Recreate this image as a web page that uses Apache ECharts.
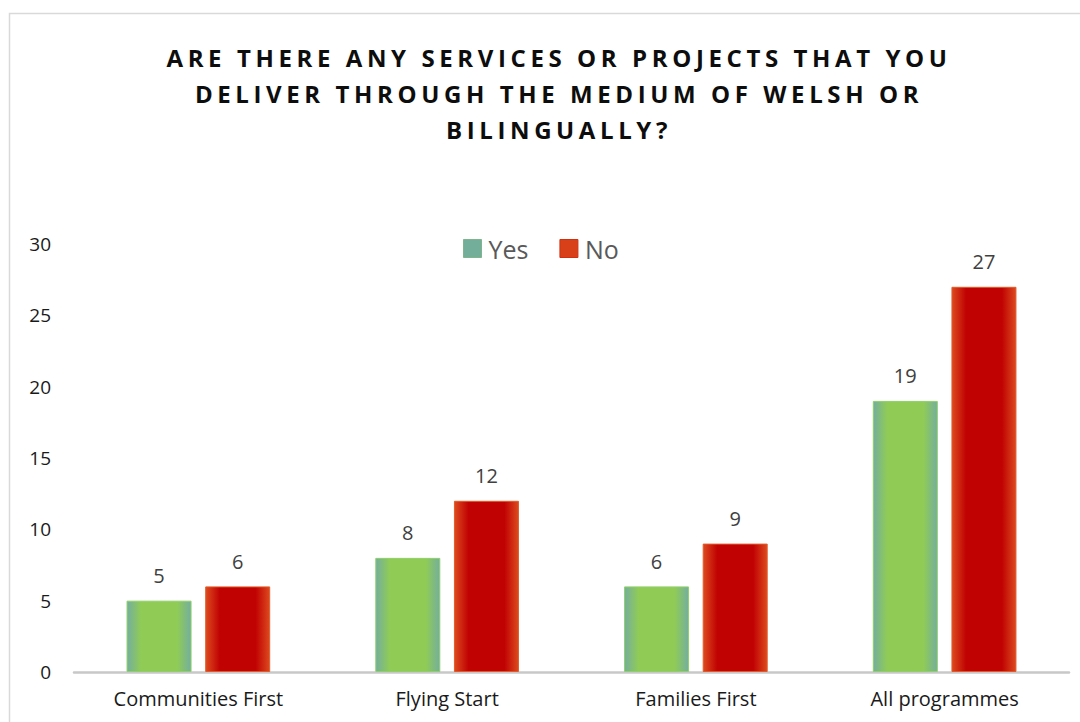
<!DOCTYPE html>
<html>
<head>
<meta charset="utf-8">
<script src="https://cdn.jsdelivr.net/npm/echarts@6/dist/echarts.min.js"></script>
<style>
  html, body { margin: 0; padding: 0; background: #fff; }
  #main { width: 1080px; height: 722px; }
  #main svg text[style*="bold"] { letter-spacing: 4.6px; }
</style>
</head>
<body>
<div id="main"></div>
<script>
const titleText = 'ARE THERE ANY SERVICES OR PROJECTS THAT YOU\nDELIVER THROUGH THE MEDIUM OF WELSH OR\nBILINGUALLY?';
const categories = ['Communities First', 'Flying Start', 'Families First', 'All programmes'];
const yesValues = [5, 8, 6, 19];
const noValues = [6, 12, 9, 27];
const seriesNames = ['Yes', 'No'];

const chart = echarts.init(document.getElementById('main'), null, { renderer: 'svg' });

const greenFill = new echarts.graphic.LinearGradient(0, 0, 1, 0, [
  { offset: 0, color: '#74ae9e' },
  { offset: 0.22, color: '#90cc55' },
  { offset: 0.78, color: '#90cc55' },
  { offset: 1, color: '#74ae9e' }
]);
const redFill = new echarts.graphic.LinearGradient(0, 0, 1, 0, [
  { offset: 0, color: '#dc4a1e' },
  { offset: 0.22, color: '#c00202' },
  { offset: 0.78, color: '#c00202' },
  { offset: 1, color: '#dc4a1e' }
]);

const labelStyle = {
  show: true,
  position: 'top',
  distance: 15,
  color: '#404040',
  fontSize: 20,
  fontFamily: 'Open Sans'
};

chart.setOption({
  animation: false,
  backgroundColor: '#ffffff',
  graphic: [{
    type: 'rect',
    shape: { x: 9.5, y: 13.5, width: 1200, height: 800 },
    style: { fill: 'none', stroke: '#d9d9d9', lineWidth: 1.5 },
    silent: true,
    z: -10
  }],
  title: {
    text: titleText,
    left: 554,
    top: 34,
    textAlign: 'center',
    textStyle: {
      fontFamily: 'Open Sans',
      fontWeight: 'bold',
      fontSize: 24,
      lineHeight: 36,
      color: '#0d0d0d'
    }
  },
  legend: {
    data: [
      { name: seriesNames[0], itemStyle: { color: '#72ae9a', borderColor: '#7fb48c', borderWidth: 1 } },
      { name: seriesNames[1], itemStyle: { color: '#d8401a', borderColor: '#d03010', borderWidth: 1 } }
    ],
    left: 458,
    top: 231,
    itemWidth: 18,
    itemHeight: 18,
    itemGap: 31,
    icon: 'rect',
    textStyle: {
      fontFamily: 'Open Sans',
      fontSize: 25,
      color: '#595959',
      padding: [0, 0, 0, 2]
    }
  },
  grid: {
    left: 74,
    right: 11,
    top: 244,
    bottom: 50,
    containLabel: false
  },
  xAxis: {
    type: 'category',
    data: categories,
    axisTick: { show: false },
    axisLine: { lineStyle: { color: '#c8c8c8', width: 2.5 } },
    axisLabel: {
      color: '#1a1a1a',
      fontSize: 20,
      fontFamily: 'Open Sans',
      margin: 16
    }
  },
  yAxis: {
    type: 'value',
    min: 0,
    max: 30,
    interval: 5,
    axisLine: { show: false },
    axisTick: { show: false },
    splitLine: { show: false },
    axisLabel: {
      color: '#1a1a1a',
      fontSize: 19,
      fontFamily: 'Open Sans',
      margin: 23
    }
  },
  series: [
    {
      name: seriesNames[0],
      type: 'bar',
      data: yesValues,
      barWidth: 65,
      barGap: '21%',
      itemStyle: { color: greenFill, borderColor: '#8fd06a', borderWidth: 1 },
      label: labelStyle
    },
    {
      name: seriesNames[1],
      type: 'bar',
      data: noValues,
      barWidth: 65,
      itemStyle: { color: redFill, borderColor: '#e35a2a', borderWidth: 1 },
      label: labelStyle
    }
  ]
});
</script>
</body>
</html>
